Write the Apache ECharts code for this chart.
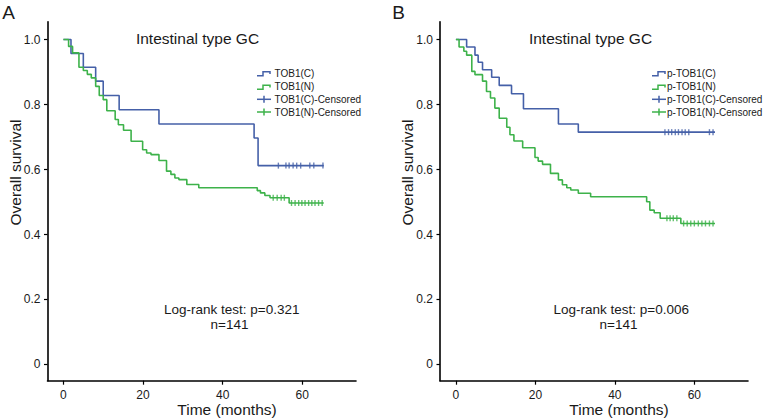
<!DOCTYPE html>
<html><head><meta charset="utf-8">
<script src="https://cdn.jsdelivr.net/npm/echarts@6/dist/echarts.min.js"></script>
<style>html,body{margin:0;padding:0;background:#fff}#c{width:769px;height:420px}</style>
</head><body><div id="c"></div>
<script>
// ---- tick labels / text ----
const xTicks = [0, 20, 40, 60];
const yTicks = [0, 0.2, 0.4, 0.6, 0.8, 1.0];
const panelLetters = ['A', 'B'];
const panelTitle = 'Intestinal type GC';
const xName = 'Time (months)';
const yName = 'Overall survival';
const legendA = ['TOB1(C)', 'TOB1(N)', 'TOB1(C)-Censored', 'TOB1(N)-Censored'];
const legendB = ['p-TOB1(C)', 'p-TOB1(N)', 'p-TOB1(C)-Censored', 'p-TOB1(N)-Censored'];
const statsA = ['Log-rank test: p=0.321', 'n=141'];
const statsB = ['Log-rank test: p=0.006', 'n=141'];

// ---- Panel A: TOB1 ----
const aBlueTime = [0, 1.9, 5.0, 8.1, 10.0, 14.0, 24.0, 47.9, 48.9, 65.4];
const aBlueSurv = [1.0, 0.957, 0.915, 0.872, 0.828, 0.784, 0.740, 0.697, 0.612, 0.612];
const aBlueCensTime = [54.0, 55.9, 56.7, 57.7, 58.6, 59.6, 61.9, 62.9, 65.2];
const aBlueCensSurv = [0.612, 0.612, 0.612, 0.612, 0.612, 0.612, 0.612, 0.612, 0.612];

const aGreenTime = [0, 1.3, 2.3, 3.9, 5.0, 6.0, 7.0, 8.1, 9.0, 10.0, 10.9, 13.0, 13.8, 15.1, 17.0, 19.9, 20.9, 22.0, 24.0, 25.9, 27.0, 28.0, 29.0, 31.0, 34.0, 48.7, 49.5, 50.6, 51.9, 56.7, 65.4];
const aGreenSurv = [1.0, 0.979, 0.959, 0.915, 0.905, 0.893, 0.882, 0.856, 0.828, 0.815, 0.781, 0.754, 0.738, 0.721, 0.687, 0.661, 0.651, 0.646, 0.628, 0.595, 0.585, 0.574, 0.569, 0.554, 0.544, 0.535, 0.528, 0.520, 0.513, 0.497, 0.497];
const aGreenCensTime = [52.7, 53.7, 54.7, 55.5, 57.3, 58.2, 59.1, 59.9, 60.7, 61.6, 62.4, 63.2, 64.1, 65.0];
const aGreenCensSurv = [0.513, 0.513, 0.513, 0.513, 0.497, 0.497, 0.497, 0.497, 0.497, 0.497, 0.497, 0.497, 0.497, 0.497];

// ---- Panel B: p-TOB1 ----
const bBlueTime = [0, 2.7, 4.8, 5.6, 6.7, 9.0, 10.9, 14.0, 17.0, 25.8, 30.8, 65.2];
const bBlueSurv = [1.0, 0.977, 0.952, 0.930, 0.907, 0.884, 0.859, 0.833, 0.787, 0.740, 0.715, 0.715];
const bBlueCensTime = [52.6, 53.5, 54.3, 55.2, 56.0, 56.9, 57.7, 58.6, 63.8, 64.7];
const bBlueCensSurv = [0.715, 0.715, 0.715, 0.715, 0.715, 0.715, 0.715, 0.715, 0.715, 0.715];

const bGreenTime = [0, 0.8, 2.0, 2.7, 4.0, 4.8, 6.7, 7.7, 8.7, 9.8, 10.9, 12.8, 13.6, 14.6, 16.8, 19.9, 20.7, 21.8, 23.8, 25.8, 26.8, 27.9, 28.9, 30.8, 33.9, 48.0, 48.8, 49.9, 51.4, 56.6, 65.2];
const bGreenSurv = [1.0, 0.977, 0.964, 0.952, 0.902, 0.892, 0.872, 0.840, 0.820, 0.789, 0.758, 0.730, 0.707, 0.688, 0.667, 0.637, 0.626, 0.616, 0.588, 0.568, 0.553, 0.544, 0.537, 0.527, 0.516, 0.501, 0.475, 0.467, 0.450, 0.434, 0.434];
const bGreenCensTime = [53.1, 53.9, 54.7, 55.6, 57.3, 58.2, 59.1, 60.0, 61.0, 61.9, 62.8, 63.8, 64.7];
const bGreenCensSurv = [0.450, 0.450, 0.450, 0.450, 0.434, 0.434, 0.434, 0.434, 0.434, 0.434, 0.434, 0.434, 0.434];

// ---- styling ----
const BLUE = '#4560a8';
const GREEN = '#3db24a';
const FONT = 'Liberation Sans, Arial, sans-serif';
const TXT = '#1a1a1a';

const zip = (a, b) => a.map((v, i) => [v, b[i]]);

function xAxis(gi) {
  return {
    type: 'value', gridIndex: gi, min: -4, max: 73.5,
    axisLine: { show: true, onZero: false, lineStyle: { color: '#000', width: 1.6 } },
    axisTick: { show: true, customValues: xTicks, length: 4, lineStyle: { color: '#000', width: 1.2 } },
    axisLabel: { customValues: xTicks, fontSize: 12, color: TXT, fontFamily: FONT, margin: 8 },
    splitLine: { show: false }
  };
}
function yAxis(gi) {
  return {
    type: 'value', gridIndex: gi, min: -0.05, max: 1.055,
    axisLine: { show: true, onZero: false, lineStyle: { color: '#000', width: 1.6 } },
    axisTick: { show: true, customValues: yTicks, length: 3.5, lineStyle: { color: '#000', width: 1.2 } },
    axisLabel: { customValues: yTicks, fontSize: 12, color: TXT, fontFamily: FONT, margin: 7,
      formatter: v => (Math.abs(v) < 1e-9 ? '0' : v.toFixed(1)) },
    splitLine: { show: false }
  };
}
function stepSeries(gi, data, color) {
  return { type: 'line', xAxisIndex: gi, yAxisIndex: gi, data, step: 'end', symbol: 'none',
    lineStyle: { color, width: 1.6 }, silent: true, z: 3 };
}
function censSeries(gi, data, color) {
  return { type: 'scatter', xAxisIndex: gi, yAxisIndex: gi, data, symbol: 'rect', symbolSize: [1.4, 6],
    itemStyle: { color }, silent: true, z: 4 };
}

function text(str, x, y, size, align, extra) {
  return Object.assign({ type: 'text', x, y, silent: true,
    style: { text: str, fill: TXT, font: size + 'px ' + FONT, align: align || 'center', verticalAlign: 'middle' } }, extra || {});
}
function legendGraphics(labels, iconX, textX, rows) {
  const g = [];
  const colors = [BLUE, GREEN, BLUE, GREEN];
  labels.forEach((lab, i) => {
    const y = rows[i];
    if (i < 2) {
      g.push({ type: 'polyline', silent: true, shape: { points: [[iconX, y + 2.5], [iconX + 6, y + 2.5], [iconX + 6, y - 1.5], [iconX + 13, y - 1.5], [iconX + 13, y + 0.8]] },
        style: { stroke: colors[i], lineWidth: 1.5, fill: null } });
    } else {
      g.push({ type: 'line', silent: true, shape: { x1: iconX, y1: y, x2: iconX + 14, y2: y }, style: { stroke: colors[i], lineWidth: 1.5 } });
      g.push({ type: 'line', silent: true, shape: { x1: iconX + 7, y1: y - 3.5, x2: iconX + 7, y2: y + 3.5 }, style: { stroke: colors[i], lineWidth: 1.5 } });
    }
    g.push(text(lab, textX, y, 10, 'left'));
  });
  return g;
}

const rows = [73.3, 86.7, 99.3, 112];
const graphics = [
  text(panelLetters[0], 8.5, 12, 19),
  text(panelLetters[1], 398.5, 12, 19),
  text(panelTitle, 197.5, 38, 15.5),
  text(panelTitle, 590.5, 38, 15.5),
  text(statsA[0], 231.7, 309, 13.5),
  text(statsA[1], 229.5, 324, 13.5),
  text(statsB[0], 621.3, 309, 13.5),
  text(statsB[1], 618.5, 324, 13.5),
  text(xName, 227, 409, 15.5),
  text(xName, 619, 409, 15.5),
  text(yName, 15, 172.5, 15.5, 'center', { rotation: Math.PI / 2 }),
  text(yName, 407.5, 172.5, 15.5, 'center', { rotation: Math.PI / 2 })
].concat(legendGraphics(legendA, 257, 274.5, rows), legendGraphics(legendB, 652, 667, rows));

const chart = echarts.init(document.getElementById('c'), null, { renderer: 'svg', width: 769, height: 420 });
chart.setOption({
  animation: false,
  backgroundColor: '#fff',
  grid: [
    { left: 47.5, top: 21.7, width: 308.5, height: 359 },
    { left: 440, top: 21.7, width: 308, height: 359 }
  ],
  xAxis: [xAxis(0), xAxis(1)],
  yAxis: [yAxis(0), yAxis(1)],
  series: [
    stepSeries(0, zip(aBlueTime, aBlueSurv), BLUE),
    stepSeries(0, zip(aGreenTime, aGreenSurv), GREEN),
    censSeries(0, zip(aBlueCensTime, aBlueCensSurv), BLUE),
    censSeries(0, zip(aGreenCensTime, aGreenCensSurv), GREEN),
    stepSeries(1, zip(bBlueTime, bBlueSurv), BLUE),
    stepSeries(1, zip(bGreenTime, bGreenSurv), GREEN),
    censSeries(1, zip(bBlueCensTime, bBlueCensSurv), BLUE),
    censSeries(1, zip(bGreenCensTime, bGreenCensSurv), GREEN)
  ],
  graphic: graphics
});
</script></body></html>
